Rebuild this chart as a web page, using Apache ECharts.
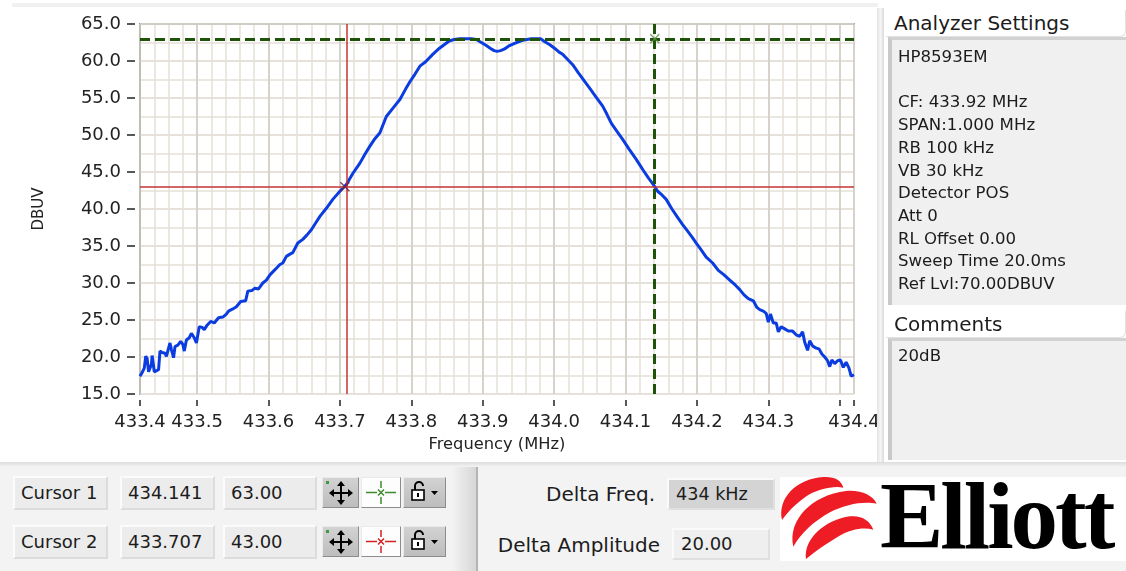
<!DOCTYPE html>
<html>
<head>
<meta charset="utf-8">
<script src="https://cdn.jsdelivr.net/npm/echarts@6/dist/echarts.min.js"></script>
<style>
body{margin:0;width:1126px;height:571px;overflow:hidden;background:#fff;position:relative;font-family:'DejaVu Sans',sans-serif;color:#1c1c1c}
#echarts-spectrum{position:absolute;left:0;top:0;width:880px;height:462px}
.abs{position:absolute;box-sizing:border-box;white-space:nowrap}
.topband{left:12px;top:3px;width:866px;height:4px;background:#f1f1f1}
.vsep{left:877px;top:8px;width:7px;height:455px;background:linear-gradient(to right,#e2e2e2,#f6f6f6,#dadada)}
.plabel{left:886px;width:240px;height:27px;font-size:20px;line-height:27px;padding-left:8px;border-bottom:1px solid #e2e2e2;border-right:1px solid #e2e2e2;border-radius:0 0 6px 0}
.pbox{left:888px;width:238px;background:#f0f0f0;border-left:4px solid #c9c9c9;border-top:3px solid #d2d2d2;font-size:16.6px;line-height:22.7px;padding-left:6px}
.hsep{left:0;top:462px;width:1126px;height:5px;background:linear-gradient(#dcdcdc,#f4f4f4)}
.bottom{left:0;top:467px;width:1126px;height:104px;background:#f3f3f3}
.cbox{height:34px;background:#ececec;border:2px solid;border-color:#fbfbfb #dcdcdc #dcdcdc #fbfbfb;font-size:18px;line-height:30px;padding-left:6px}
.btn{height:31px;border:1px solid;border-color:#eaeaea #8c8c8c #8c8c8c #eaeaea;background:linear-gradient(#d2d2d2,#bdbdbd)}
.btn.white{background:#fdfdfd}
.btn svg{display:block}
.csep{left:452px;top:467px;width:24px;height:104px;background:linear-gradient(to right,#f3f3f3,#d6d6d6)}
.cline{left:476px;top:467px;width:2px;height:104px;background:#b4b4b4}
.dlabel{font-size:20px;line-height:30px;text-align:right;width:200px}
.dbox{height:32px;border:2px solid;border-color:#fafafa #e0e0e0 #e0e0e0 #fafafa;line-height:28px;padding-left:7px}
.logo{left:780px;top:477px;width:346px;height:84px;background:#fff}
.swoosh{position:absolute;left:770px;top:465px;display:block}
.logotext{left:880px;top:466px;font-family:'Liberation Serif',serif;font-weight:bold;font-size:95px;line-height:100px;letter-spacing:-3px;color:#000}
</style>
</head>
<body>
<div id="echarts-spectrum"></div>
<div class="abs topband"></div>
<div class="abs vsep"></div>
<div class="abs hsep"></div>
<div class="abs bottom"></div>
<div id="panel"></div>
<script>
//----------------------Data----------------------
let freqMHz = [
    433.420, 433.423, 433.426, 433.428, 433.430, 433.432, 433.434, 433.436, 433.437, 433.439,
    433.440, 433.442, 433.446, 433.448, 433.451, 433.455, 433.457, 433.459, 433.462, 433.464,
    433.467, 433.469, 433.473, 433.477, 433.480, 433.482, 433.485, 433.489, 433.492, 433.496,
    433.499, 433.503, 433.507, 433.510, 433.514, 433.519, 433.524, 433.530, 433.536, 433.541,
    433.544, 433.550, 433.555, 433.561, 433.568, 433.571, 433.577, 433.581, 433.586, 433.592,
    433.597, 433.602, 433.607, 433.611, 433.616, 433.620, 433.625, 433.630, 433.634, 433.641,
    433.648, 433.654, 433.660, 433.666, 433.672, 433.681, 433.690, 433.700, 433.709, 433.718,
    433.728, 433.735, 433.742, 433.749, 433.756, 433.765, 433.774, 433.784, 433.792, 433.798,
    433.805, 433.812, 433.820, 433.830, 433.839, 433.846, 433.853, 433.860, 433.868, 433.876,
    433.884, 433.891, 433.898, 433.905, 433.911, 433.916, 433.920, 433.925, 433.930, 433.936,
    433.943, 433.950, 433.956, 433.962, 433.968, 433.974, 433.981, 433.987, 433.994, 434.001,
    434.007, 434.012, 434.019, 434.026, 434.034, 434.043, 434.050, 434.059, 434.068, 434.074,
    434.080, 434.088, 434.096, 434.105, 434.115, 434.125, 434.132, 434.139, 434.145, 434.151,
    434.157, 434.165, 434.172, 434.180, 434.187, 434.194, 434.199, 434.205, 434.213, 434.222,
    434.230, 434.238, 434.246, 434.254, 434.260, 434.266, 434.272, 434.279, 434.284, 434.288,
    434.293, 434.297, 434.300, 434.303, 434.307, 434.311, 434.314, 434.318, 434.323, 434.328,
    434.334, 434.339, 434.344, 434.348, 434.351, 434.355, 434.358, 434.362, 434.367, 434.371,
    434.375, 434.379, 434.383, 434.386, 434.389, 434.393, 434.397, 434.401, 434.405, 434.409,
    434.413, 434.416, 434.420
];
let levelDBUV = [
    17.4, 17.9, 18.5, 20.1, 19.8, 18.0, 18.1, 19.0, 20.2, 20.0,
    18.0, 18.1, 18.3, 20.8, 20.6, 20.5, 20.1, 20.3, 21.9, 21.0,
    19.9, 21.4, 21.6, 22.1, 21.7, 20.8, 22.3, 22.6, 23.2, 22.6,
    21.9, 24.1, 24.0, 23.7, 24.3, 24.8, 24.6, 25.3, 25.4, 25.8,
    26.2, 26.5, 26.8, 27.5, 27.6, 28.9, 29.0, 29.3, 29.2, 30.0,
    30.4, 31.1, 31.6, 32.0, 32.5, 32.7, 33.6, 33.9, 34.1, 35.4,
    35.9, 36.5, 37.2, 38.1, 39.0, 40.1, 41.3, 42.4, 43.3, 44.8,
    46.2, 47.4, 48.5, 49.5, 50.3, 52.5, 53.6, 54.8, 56.2, 57.2,
    58.2, 59.3, 59.9, 60.9, 61.7, 62.2, 62.7, 62.9, 63.0, 63.0,
    63.0, 62.9, 62.5, 62.1, 61.7, 61.4, 61.3, 61.4, 61.6, 62.0,
    62.3, 62.6, 62.8, 62.9, 63.0, 63.0, 63.0, 62.6, 62.2, 61.7,
    61.2, 60.9, 60.2, 59.5, 58.4, 57.2, 56.3, 55.1, 53.9, 52.8,
    51.6, 50.5, 49.4, 48.1, 46.7, 45.2, 44.2, 43.3, 42.4, 41.9,
    41.3, 40.0, 39.0, 37.9, 37.0, 36.1, 35.4, 34.6, 33.5, 32.7,
    31.7, 31.1, 30.4, 29.7, 29.1, 28.4, 27.9, 27.6, 26.7, 26.4,
    26.2, 25.9, 24.7, 25.8, 24.6, 24.6, 23.4, 24.1, 23.8, 23.5,
    23.5, 23.0, 22.8, 23.4, 22.0, 20.9, 22.2, 21.5, 21.2, 21.1,
    20.4, 20.0, 19.5, 18.7, 19.6, 19.1, 19.5, 19.6, 18.6, 19.3,
    18.5, 17.4, 17.6
];
let cursorNames = ["Cursor 1", "Cursor 2"];
let cursorFreq = [434.141, 433.707];
let cursorLevel = [63.00, 43.00];
let cursorColors = ["#1f5309", "#c43434"];
let deltaFreqText = "434 kHz";
let deltaAmpText = "20.00";
let xTickValues = [433.42, 433.5, 433.6, 433.7, 433.8, 433.9, 434.0, 434.1, 434.2, 434.3, 434.4, 434.42];
let xLabelValues = [433.42, 433.5, 433.6, 433.7, 433.8, 433.9, 434.0, 434.1, 434.2, 434.3, 434.42];
let analyzerSettings = ["HP8593EM", "", "CF: 433.92 MHz", "SPAN:1.000 MHz", "RB 100 kHz", "VB 30 kHz",
    "Detector POS", "Att 0", "RL Offset 0.00", "Sweep Time 20.0ms", "Ref Lvl:70.00DBUV"];
let comments = ["20dB"];

//--------------------Side panels--------------------
let panel = document.getElementById("panel");
let html = "";
html += '<div class="abs plabel" style="top:10px">Analyzer Settings</div>';
html += '<div class="abs pbox" style="top:37px;height:268px;padding-top:6px">' + analyzerSettings.map(s => s === "" ? "&nbsp;" : s).join("<br>") + '</div>';
html += '<div class="abs plabel" style="top:311px">Comments</div>';
html += '<div class="abs pbox" style="top:338px;height:122px;padding-top:4px">' + comments.join("<br>") + '</div>';

let moveIcon = '<svg width="35" height="29"><rect x="3" y="3" width="3" height="3" fill="#3f9a3f"/>' +
    '<g stroke="#000" stroke-width="2"><line x1="18" y1="7" x2="18" y2="23"/><line x1="9" y1="15" x2="27" y2="15"/></g>' +
    '<g fill="#000"><path d="M18 3l-4 5h8z"/><path d="M18 27l-4-5h8z"/><path d="M6 15l5-4v8z"/><path d="M30 15l-5-4v8z"/></g></svg>';
let lockIcon = '<svg width="40" height="29"><path d="M11 12v-4a4 4 0 0 1 8 0" fill="none" stroke="#000" stroke-width="2"/>' +
    '<rect x="8" y="12" width="12" height="10" fill="#fff" stroke="#000" stroke-width="1.6"/><rect x="13" y="15" width="2" height="4" fill="#000"/>' +
    '<path d="M27 13h7l-3.5 4z" fill="#000"/></svg>';
for (let i = 0; i < cursorNames.length; i++) {
    let top = 476 + i * 49;
    let c = i === 0 ? "#3c8a2c" : "#d42020";
    let crossIcon = '<svg width="38" height="29"><g stroke="' + c + '" stroke-width="1.5">' +
        '<line x1="4" y1="14.5" x2="15" y2="14.5"/><line x1="23" y1="14.5" x2="34" y2="14.5"/>' +
        '<line x1="19" y1="3" x2="19" y2="10"/><line x1="19" y1="19" x2="19" y2="26"/>' +
        '<path d="M16 11.5l6 6M22 11.5l-6 6"/></g></svg>';
    html += '<div class="abs cbox" style="left:13px;top:' + top + 'px;width:95px">' + cursorNames[i] + '</div>';
    html += '<div class="abs cbox" style="left:120px;top:' + top + 'px;width:95px">' + cursorFreq[i].toFixed(3) + '</div>';
    html += '<div class="abs cbox" style="left:223px;top:' + top + 'px;width:94px">' + cursorLevel[i].toFixed(2) + '</div>';
    html += '<div class="abs btn" style="left:322px;top:' + (top + 1) + 'px;width:37px">' + moveIcon + '</div>';
    html += '<div class="abs btn white" style="left:361px;top:' + (top + 1) + 'px;width:40px">' + crossIcon + '</div>';
    html += '<div class="abs btn" style="left:403px;top:' + (top + 1) + 'px;width:43px">' + lockIcon + '</div>';
}
html += '<div class="abs csep"></div><div class="abs cline"></div>';
html += '<div class="abs dlabel" style="left:455px;top:479px">Delta Freq.</div>';
html += '<div class="abs dbox" style="left:667px;top:478px;width:108px;background:#d4d4d4;font-size:17.6px">' + deltaFreqText + '</div>';
html += '<div class="abs dlabel" style="left:460px;top:530px">Delta Amplitude</div>';
html += '<div class="abs dbox" style="left:672px;top:528px;width:98px;background:#efefef;font-size:18px">' + deltaAmpText + '</div>';
html += '<div class="abs logo"></div>';
// red swooshes, drawn in 3x coordinates of the 770,465 corner
html += '<svg class="swoosh" width="120" height="106" viewBox="0 0 360 318"><g fill="#ee1c24">' +
    '<path d="M36,165 C22,100 78,42 160,36 C194,34 214,46 220,68 C190,62 142,72 106,96 C76,118 54,140 36,165 Z"/>' +
    '<path d="M70,245 C52,165 126,90 228,78 C272,74 308,90 320,116 C284,108 228,116 180,142 C130,170 94,204 70,245 Z"/>' +
    '<path d="M108,282 C100,222 166,164 240,154 C274,150 300,166 310,194 C282,186 242,192 206,214 C168,238 136,258 108,282 Z"/>' +
    '</g></svg>';
html += '<div class="abs logotext">Elliott</div>';
panel.innerHTML = html;

//----------------------Chart----------------------
let spectrum_chart_dom = document.getElementById("echarts-spectrum");
let spectrum_chart = echarts.init(spectrum_chart_dom);
let spectrum_font = "DejaVu Sans";
let spectrum_minor_color = "#e4e0d9";
let spectrum_major_color = "#d0cbc3";
//----------------------Grid----------------------
let spectrum_chart_grid = {left: 140, top: 24, width: 714, height: 370, containLabel: false, outerBoundsMode: 'none'};
//----------------------Axis----------------------
let spectrum_chart_xAxis = [
    {
        // minor grid + top border
        type: 'value', position: 'top', min: 433.42, max: 434.42, interval: 0.02,
        axisLine: {show: true, lineStyle: {color: '#8f8f8f', width: 2}},
        axisTick: {show: false}, axisLabel: {show: false},
        splitLine: {show: true, lineStyle: {color: spectrum_minor_color, width: 1.5}}
    },
    {
        type: 'value', position: 'bottom', min: 433.42, max: 434.42, offset: 6, z: 1,
        axisLine: {show: false},
        axisTick: {show: true, customValues: xTickValues, length: 6, lineStyle: {color: '#222', width: 1.5}},
        axisLabel: {
            customValues: xLabelValues, margin: 13, color: '#222', fontSize: 18, fontFamily: spectrum_font,
            showMinLabel: true, showMaxLabel: true, hideOverlap: false,
            formatter: v => v.toFixed(1)
        },
        splitLine: {show: true, lineStyle: {color: spectrum_major_color, width: 1.5}},
        name: 'Frequency (MHz)', nameLocation: 'middle', nameGap: 37,
        nameTextStyle: {fontSize: 16.3, fontFamily: spectrum_font, color: '#222'}
    }
];
let spectrum_chart_yAxis = [
    {
        type: 'value', position: 'left', min: 15, max: 65, interval: 2.5,
        axisLine: {show: true, lineStyle: {color: '#8f8f8f', width: 2}},
        axisTick: {show: false}, axisLabel: {show: false},
        splitLine: {show: true, lineStyle: {color: spectrum_minor_color, width: 1.5}}
    },
    {
        type: 'value', position: 'left', min: 15, max: 65, interval: 5, offset: 5, z: 1,
        axisLine: {show: false},
        axisTick: {show: true, length: 8, lineStyle: {color: '#222', width: 1.5}},
        axisLabel: {margin: 14, color: '#222', fontSize: 18, fontFamily: spectrum_font,
            showMinLabel: true, showMaxLabel: true, formatter: v => v.toFixed(1)},
        splitLine: {show: true, lineStyle: {color: spectrum_minor_color, width: 1.5}},
        name: 'DBUV', nameLocation: 'middle', nameGap: 88,
        nameTextStyle: {fontSize: 15, fontFamily: spectrum_font, color: '#222'}
    }
];
//---------------------Series---------------------
let spectrum_points = freqMHz.map((f, i) => [f, levelDBUV[i]]);
let spectrum_cursor_lines = [];
for (let i = 0; i < cursorFreq.length; i++) {
    let style = i === 0
        ? {color: cursorColors[i], width: 3, type: [10, 5]}
        : {color: cursorColors[i], width: 1.5, type: 'solid'};
    spectrum_cursor_lines.push({xAxis: cursorFreq[i], lineStyle: style});
    spectrum_cursor_lines.push({yAxis: cursorLevel[i], lineStyle: style});
}
let spectrum_chart_series = [
    {
        type: 'line', xAxisIndex: 1, yAxisIndex: 1,
        data: spectrum_points, showSymbol: false, symbol: 'none',
        lineStyle: {color: '#0b3ce0', width: 3},
        markLine: {silent: true, symbol: ['none', 'none'], label: {show: false}, animation: false, data: spectrum_cursor_lines}
    },
    {
        type: 'scatter', xAxisIndex: 1, yAxisIndex: 1, z: 5,
        symbol: 'path://M0,0L10,10M10,0L0,10', symbolSize: 9,
        data: cursorFreq.map((f, i) => ({
            value: [f, cursorLevel[i]],
            itemStyle: {color: 'transparent', borderColor: i === 0 ? '#5f8f45' : '#6a2244', borderWidth: 1.5}
        }))
    }
];
//------------------Generate Graph------------------
let spectrum_chart_option = {
    backgroundColor: '#ffffff',
    animation: false,
    grid: spectrum_chart_grid,
    xAxis: spectrum_chart_xAxis,
    yAxis: spectrum_chart_yAxis,
    series: spectrum_chart_series
};
spectrum_chart.setOption(spectrum_chart_option, true);
</script>
</body>
</html>
